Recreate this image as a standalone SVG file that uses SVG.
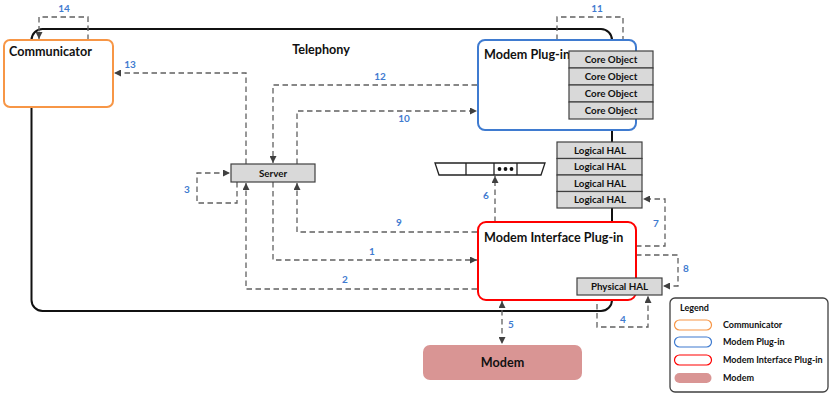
<svg xmlns="http://www.w3.org/2000/svg" width="834" height="394" viewBox="0 0 834 394">
  <style>
    .title { font-family: Lato, "Liberation Sans", sans-serif; font-weight: bold; font-size: 12.6px; fill: #111; }
    .cell { fill: #D9D9D9; stroke: #404040; stroke-width: 1.2; }
    .cellText { font-family: Lato, "Liberation Sans", sans-serif; font-weight: bold; font-size: 9.8px; fill: #111; text-anchor: middle; }
    .num { font-family: Lato, "Liberation Sans", sans-serif; font-weight: bold; font-size: 10px; fill: #3F7BD0; text-anchor: middle; }
    .flow { fill: none; stroke: #606060; stroke-width: 1.3; stroke-dasharray: 5.5 3.5; }
    .legText { font-family: Lato, "Liberation Sans", sans-serif; font-weight: bold; font-size: 9px; fill: #111; }
  </style>
  <defs>
    <marker id="arrow" viewBox="0 0 8 8" refX="8" refY="4" markerWidth="7" markerHeight="7" markerUnits="userSpaceOnUse" orient="auto-start-reverse">
      <path d="M0,0 L8,4 L0,8 z" fill="#404040"/>
    </marker>
  </defs>

  <rect width="834" height="394" fill="#ffffff"/>

  <!-- Telephony container -->
  <g id="telephony">
    <rect x="31.5" y="29" width="580.5" height="282" rx="11" fill="none" stroke="#111" stroke-width="2"/>
    <text class="title" x="321" y="54" text-anchor="middle">Telephony</text>
  </g>

  <!-- Connectors -->
  <g id="connectors">
    <!-- 1 -->
    <polyline class="flow" points="273,182 273,260 477,260" marker-end="url(#arrow)"/>
    <!-- 2 -->
    <polyline class="flow" points="477,289 246,289 246,183" marker-end="url(#arrow)"/>
    <!-- 3 -->
    <polyline class="flow" points="237,182 237,203 197,203 197,173 230,173" marker-end="url(#arrow)"/>
    <!-- 4 -->
    <polyline class="flow" points="597,295 597,327 648,327 648,296" marker-end="url(#arrow)"/>
    <!-- 5 -->
    <line class="flow" x1="502" y1="301" x2="502" y2="344" marker-start="url(#arrow)" marker-end="url(#arrow)"/>
    <!-- 6 -->
    <line class="flow" x1="495" y1="222" x2="495" y2="176" marker-end="url(#arrow)"/>
    <!-- 7 -->
    <polyline class="flow" points="636,246 665,246 665,199 643,199" marker-end="url(#arrow)"/>
    <!-- 8 -->
    <polyline class="flow" points="636,255 678,255 678,286 663,286" marker-end="url(#arrow)"/>
    <!-- 9 -->
    <polyline class="flow" points="477,232 297,232 297,183" marker-end="url(#arrow)"/>
    <!-- 10 -->
    <polyline class="flow" points="297,164 297,111 477,111" marker-end="url(#arrow)"/>
    <!-- 11 -->
    <polyline class="flow" points="557,40 557,17 623,17 623,50" marker-end="url(#arrow)"/>
    <!-- 12 -->
    <polyline class="flow" points="477,85 273,85 273,163" marker-end="url(#arrow)"/>
    <!-- 13 -->
    <polyline class="flow" points="246,164 246,73 114,73" marker-end="url(#arrow)"/>
    <!-- 14 -->
    <polyline class="flow" points="88,40 88,17 39,17 39,39" marker-end="url(#arrow)"/>

    <text class="num" x="372" y="255">1</text>
    <text class="num" x="345" y="283">2</text>
    <text class="num" x="187" y="193">3</text>
    <text class="num" x="623" y="323">4</text>
    <text class="num" x="511" y="328">5</text>
    <text class="num" x="486" y="199">6</text>
    <text class="num" x="656" y="227">7</text>
    <text class="num" x="686" y="272">8</text>
    <text class="num" x="399" y="226">9</text>
    <text class="num" x="404" y="122">10</text>
    <text class="num" x="597" y="12">11</text>
    <text class="num" x="380" y="80">12</text>
    <text class="num" x="130" y="68">13</text>
    <text class="num" x="64" y="12">14</text>
  </g>

  <!-- Communicator -->
  <g id="communicator">
    <rect x="4" y="40" width="109" height="67" rx="6" fill="#ffffff" stroke="#F79646" stroke-width="2"/>
    <text class="title" x="9" y="56">Communicator</text>
  </g>

  <!-- Modem Plug-in -->
  <g id="modem-plugin">
    <rect x="478" y="40" width="158" height="90" rx="7" fill="#ffffff" stroke="#3F7BD0" stroke-width="2"/>
    <text class="title" x="484" y="59">Modem Plug-in</text>
  </g>

  <!-- Core objects -->
  <g id="core-objects">
    <rect class="cell" x="569" y="51" width="84" height="17"/>
    <rect class="cell" x="569" y="68" width="84" height="17"/>
    <rect class="cell" x="569" y="85" width="84" height="17"/>
    <rect class="cell" x="569" y="102" width="84" height="17"/>
    <text class="cellText" x="611" y="63">Core Object</text>
    <text class="cellText" x="611" y="80">Core Object</text>
    <text class="cellText" x="611" y="97">Core Object</text>
    <text class="cellText" x="611" y="114">Core Object</text>
  </g>

  <!-- Logical HAL stack -->
  <g id="logical-hal">
    <rect class="cell" x="557" y="142" width="85" height="16.5"/>
    <rect class="cell" x="557" y="158.5" width="85" height="16.5"/>
    <rect class="cell" x="557" y="175" width="85" height="16.5"/>
    <rect class="cell" x="557" y="191.5" width="85" height="16.5"/>
    <text class="cellText" x="600" y="153.5">Logical HAL</text>
    <text class="cellText" x="600" y="170">Logical HAL</text>
    <text class="cellText" x="600" y="186.5">Logical HAL</text>
    <text class="cellText" x="600" y="203">Logical HAL</text>
  </g>

  <!-- Server -->
  <g id="server">
    <rect class="cell" x="231" y="164" width="84" height="18"/>
    <text class="cellText" x="273" y="176.5">Server</text>
  </g>

  <!-- Message queue -->
  <g id="queue">
    <path d="M435,163 L545,163 L541,175 L439,175 Z" fill="#ffffff" stroke="#222" stroke-width="1.3"/>
    <line x1="466" y1="163" x2="466" y2="175" stroke="#222" stroke-width="1.3"/>
    <line x1="494" y1="163" x2="494" y2="175" stroke="#222" stroke-width="1.3"/>
    <line x1="517" y1="163" x2="517" y2="175" stroke="#222" stroke-width="1.3"/>
    <circle cx="499.5" cy="169" r="1.9" fill="#111"/>
    <circle cx="505.5" cy="169" r="1.9" fill="#111"/>
    <circle cx="511.5" cy="169" r="1.9" fill="#111"/>
  </g>

  <!-- Modem Interface Plug-in -->
  <g id="modem-interface-plugin">
    <rect x="478" y="222" width="158" height="78" rx="8" fill="#ffffff" stroke="#FF0000" stroke-width="2"/>
    <text class="title" x="484" y="242">Modem Interface Plug-in</text>
  </g>

  <!-- Physical HAL -->
  <g id="physical-hal">
    <rect class="cell" x="577" y="278" width="85" height="17"/>
    <text class="cellText" x="619.5" y="290">Physical HAL</text>
  </g>

  <!-- Modem -->
  <g id="modem">
    <rect x="423" y="345" width="159" height="35" rx="7" fill="#D99594"/>
    <text class="title" x="502.5" y="367" text-anchor="middle">Modem</text>
  </g>

  <!-- Legend -->
  <g id="legend">
    <rect x="670" y="298" width="158" height="94" rx="5" fill="#ffffff" stroke="#404040" stroke-width="1.3"/>
    <text class="legText" x="680" y="311">Legend</text>
    <rect x="674.5" y="320" width="37" height="10" rx="5" fill="#ffffff" stroke="#F79646" stroke-width="1.2"/>
    <rect x="674.5" y="337" width="37" height="10" rx="5" fill="#ffffff" stroke="#3F7BD0" stroke-width="1.2"/>
    <rect x="674.5" y="355" width="37" height="10" rx="5" fill="#ffffff" stroke="#FF0000" stroke-width="1.2"/>
    <rect x="674.5" y="373" width="37" height="10" rx="5" fill="#D99594"/>
    <text class="legText" x="723" y="328">Communicator</text>
    <text class="legText" x="723" y="345">Modem Plug-in</text>
    <text class="legText" x="723" y="363">Modem Interface Plug-in</text>
    <text class="legText" x="723" y="381">Modem</text>
  </g>
</svg>
